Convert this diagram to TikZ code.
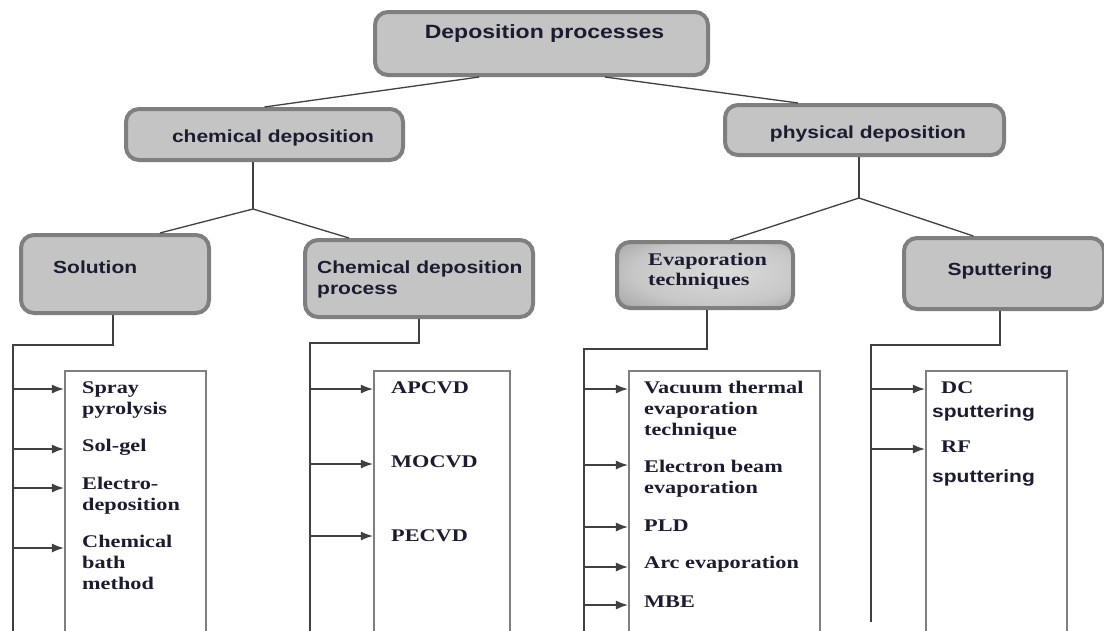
\documentclass[tikz,border=0pt]{standalone}
\usepackage{fontspec}
\newfontfamily\sansf{Liberation Sans}[FakeStretch=1.2]
\newfontfamily\seriff{Liberation Serif}[FakeStretch=1.25]
\usetikzlibrary{arrows.meta,calc}
\definecolor{boxfill}{HTML}{C4C4C4}
\definecolor{boxedge}{HTML}{7F7F7F}
\definecolor{ink}{HTML}{1C1C30}
\definecolor{wirec}{HTML}{404040}
\pgfdeclareradialshading{evapshading}{\pgfpoint{6bp}{3bp}}{%
  color(0bp)=(white!86!black);
  color(24bp)=(white!78!black);
  color(40bp)=(white!62!black);
  color(60bp)=(white!45!black)}
\tikzset{
  cat/.style={draw=boxedge, line width=4pt, fill=boxfill, rounded corners=13pt, inner sep=0pt},
  catshade/.style={draw=boxedge, line width=4pt, rounded corners=13pt, inner sep=0pt, shading=evapshading},
  lst/.style={draw=boxedge, line width=2.2pt, fill=white, inner sep=0pt},
  st/.style={font=\sansf\bfseries\fontsize{17.5}{21}\selectfont, text=ink, inner sep=0pt},
  sttop/.style={font=\sansf\bfseries\fontsize{19.2}{23}\selectfont, text=ink, inner sep=0pt},
  sr/.style={font=\seriff\bfseries\fontsize{17.8}{21}\selectfont, text=ink, inner sep=0pt},
  wire/.style={draw=wirec, line width=1.3pt},
  arr/.style={wire, -{Latex[length=12pt,width=9pt]}}
}
\begin{document}
\begin{tikzpicture}[x=1pt,y=-1pt]
\clip (0,0) rectangle (1104,630);
\fill[white] (0,0) rectangle (1104,630);

% category boxes
\node[cat, minimum width=333pt, minimum height=63pt] (top) at (541.5,43.5) {};
\node[cat, minimum width=277pt, minimum height=51pt] (chem) at (264.5,134.5) {};
\node[cat, minimum width=279pt, minimum height=50pt] (phys) at (864.5,130) {};
\node[cat, minimum width=188pt, minimum height=78pt] (sol) at (115,274) {};
\node[cat, minimum width=228pt, minimum height=77pt] (cdp) at (419,278.5) {};
\node[catshade, minimum width=176pt, minimum height=66pt] (evap) at (705,275) {};
\node[cat, minimum width=200pt, minimum height=71pt] (sput) at (1004,273.5) {};

% list boxes
\node[lst, minimum width=141pt, minimum height=268pt] (L1) at (135.5,505) {};
\node[lst, minimum width=136pt, minimum height=268pt] (L2) at (442,505) {};
\node[lst, minimum width=191pt, minimum height=268pt] (L3) at (724.5,505) {};
\node[lst, minimum width=141pt, minimum height=268pt] (L4) at (996.5,505) {};

% category texts
\node[sttop, anchor=base] (tTop) at (544.5,38.5) {Deposition processes};
\node[st, anchor=base] (tChem) at (273,142) {chemical deposition};
\node[st, anchor=base] (tPhys) at (868,138) {physical deposition};
\node[st, anchor=base west] (tSol) at (53,273) {Solution};
\node[st, anchor=base west] (tCdp1) at (317,273) {Chemical deposition};
\node[st, anchor=base west] (tCdp2) at (317,294) {process};
\node[sr, anchor=base west] (tEv1) at (648,265) {Evaporation};
\node[sr, anchor=base west] (tEv2) at (648,285) {techniques};
\node[st, anchor=base] (tSput) at (1000,275) {Sputtering};

% tree connectors
\draw[wire] ($(top.south west)!0.315!(top.south east)$) -- (chem.north);
\draw[wire] ($(top.south west)!0.688!(top.south east)$) -- ($(phys.north west)!0.265!(phys.north east)$);
\coordinate (j1) at (253,209);
\coordinate (j2) at (859,198);
\draw[wire] (chem.south -| j1) -- (j1);
\draw[wire] (j1) -- ($(sol.north west)!0.734!(sol.north east)$);
\draw[wire] (j1) -- ($(cdp.north west)!0.198!(cdp.north east)$);
\draw[wire] (phys.south -| j2) -- (j2);
\draw[wire] (j2) -- ($(evap.north west)!0.64!(evap.north east)$);
\draw[wire] (j2) -- ($(sput.north west)!0.35!(sput.north east)$);

% bus lines
\coordinate (a1) at (113,345); \coordinate (a2) at (13,345); \coordinate (a3) at (13,640);
\draw[wire] (sol.south -| a1) -- (a1) -- (a2) -- (a3);
\coordinate (b1) at (419,343); \coordinate (b2) at (310,343); \coordinate (b3) at (310,640);
\draw[wire] (cdp.south -| b1) -- (b1) -- (b2) -- (b3);
\coordinate (c1) at (707,349); \coordinate (c2) at (584,349); \coordinate (c3) at (584,640);
\draw[wire] (evap.south -| c1) -- (c1) -- (c2) -- (c3);
\coordinate (d1) at (1000,345); \coordinate (d2) at (871,345); \coordinate (d3) at (871,622);
\draw[wire] (sput.south -| d1) -- (d1) -- (d2) -- (d3);

% arrows
\foreach \y in {389,449,488,548} \draw[arr] (a2 |- 0,\y) -- (L1.west |- 0,\y);
\foreach \y in {389,464,536} \draw[arr] (b2 |- 0,\y) -- (L2.west |- 0,\y);
\foreach \y in {389,465,527,567,605} \draw[arr] (c2 |- 0,\y) -- (L3.west |- 0,\y);
\foreach \y in {389,449} \draw[arr] (d2 |- 0,\y) -- (L4.west |- 0,\y);

% list texts
\node[sr, anchor=base west] (i1a) at (82,393) {Spray};
\node[sr, anchor=base west] (i1b) at (82,414) {pyrolysis};
\node[sr, anchor=base west] (i2) at (82,451) {Sol-gel};
\node[sr, anchor=base west] (i3a) at (82,489) {Electro-};
\node[sr, anchor=base west] (i3b) at (82,510) {deposition};
\node[sr, anchor=base west] (i4a) at (82,547) {Chemical};
\node[sr, anchor=base west] (i4b) at (82,568) {bath};
\node[sr, anchor=base west] (i4c) at (82,589) {method};

\node[sr, anchor=base west] (k1) at (391,393) {APCVD};
\node[sr, anchor=base west] (k2) at (391,467) {MOCVD};
\node[sr, anchor=base west] (k3) at (391,541) {PECVD};

\node[sr, anchor=base west] (m1a) at (644,393) {Vacuum thermal};
\node[sr, anchor=base west] (m1b) at (644,414) {evaporation};
\node[sr, anchor=base west] (m1c) at (644,435) {technique};
\node[sr, anchor=base west] (m2a) at (644,472) {Electron beam};
\node[sr, anchor=base west] (m2b) at (644,493) {evaporation};
\node[sr, anchor=base west] (m3) at (644,531) {PLD};
\node[sr, anchor=base west] (m4) at (644,568) {Arc evaporation};
\node[sr, anchor=base west] (m5) at (644,607) {MBE};

\node[sr, anchor=base west] (n1a) at (941,393) {DC};
\node[st, anchor=base west] (n1b) at (932,417) {sputtering};
\node[sr, anchor=base west] (n2a) at (941,452) {RF};
\node[st, anchor=base west] (n2b) at (932,482) {sputtering};
\end{tikzpicture}
\end{document}
